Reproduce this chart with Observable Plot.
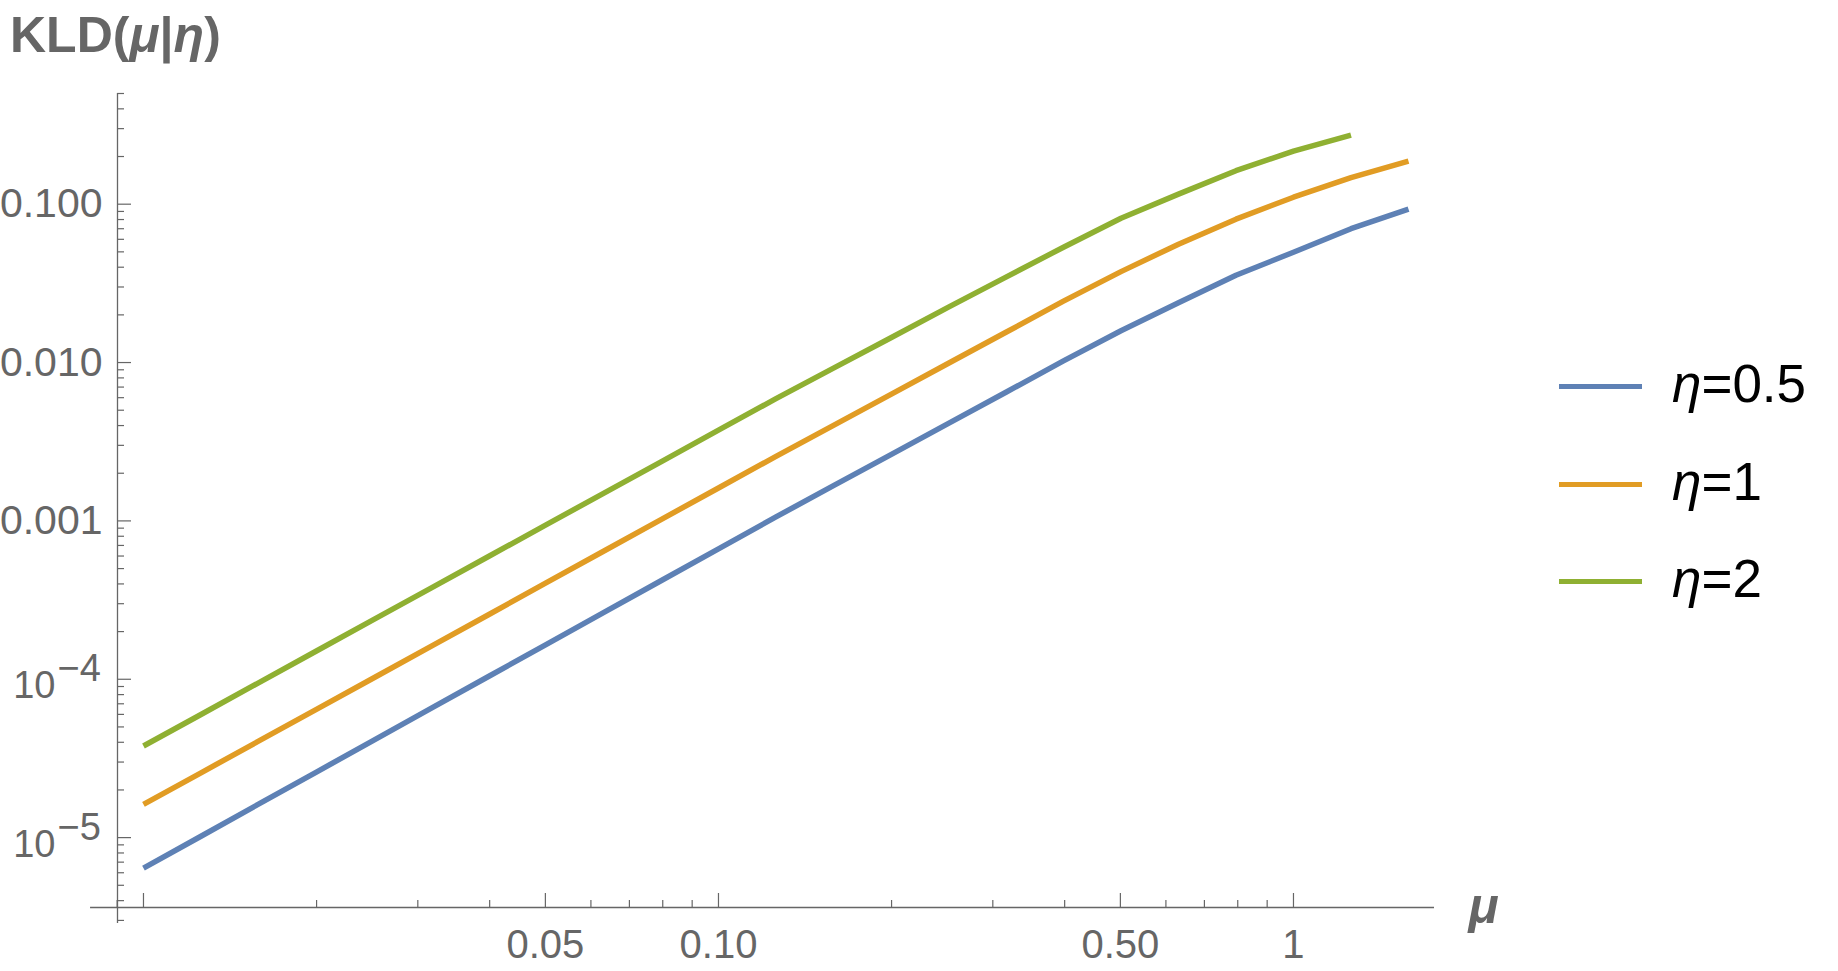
<!DOCTYPE html>
<html>
<head>
<meta charset="utf-8">
<script src="https://cdn.jsdelivr.net/npm/d3@7"></script>
<script src="https://cdn.jsdelivr.net/npm/@observablehq/plot@0.6"></script>
<style>
  html, body { margin: 0; padding: 0; background: #fff; overflow: hidden; }
  #wrap { position: relative; width: 1838px; height: 971px; font-family: "Liberation Sans", Arial, sans-serif; }
  #title { position: absolute; left: 10px; top: 10px; font-size: 50px; line-height: 50px; font-weight: bold; color: #666; white-space: nowrap; }
  .leg-line { position: absolute; left: 1559px; width: 83px; height: 5px; }
  .leg-text { position: absolute; left: 1672px; font-size: 53px; line-height: 53px; color: #000; white-space: nowrap; }
</style>
</head>
<body>
<div id="wrap">
  <div id="chart"></div>
  <div id="title">KLD(<i>μ</i>|<i>η</i>)</div>
  <div id="legend"></div>
</div>
<script>
// ---- data ----
const mu = [0.01, 0.01259, 0.01585, 0.01995, 0.02512, 0.03162, 0.03981, 0.05012, 0.0631, 0.07943,
            0.1, 0.1259, 0.1585, 0.1995, 0.2512, 0.3162, 0.3981, 0.5012, 0.631, 0.7943, 1, 1.259, 1.585];
const kldEta05 = [6.42e-6, 1.02e-5, 1.626e-5, 2.585e-5, 4.11e-5, 6.55e-5, 1.041e-4, 1.656e-4, 2.634e-4, 4.19e-4,
                  6.66e-4, 1.06e-3, 1.669e-3, 2.623e-3, 4.13e-3, 6.49e-3, 1.025e-2, 1.588e-2, 2.386e-2, 3.56e-2, 4.97e-2, 7.0e-2, 9.3e-2];
const kldEta1 = [1.621e-5, 2.566e-5, 4.064e-5, 6.43e-5, 1.019e-4, 1.614e-4, 2.555e-4, 4.06e-4, 6.43e-4, 1.019e-3,
                 1.614e-3, 2.555e-3, 4.01e-3, 6.30e-3, 9.90e-3, 1.553e-2, 2.44e-2, 3.75e-2, 5.59e-2, 8.04e-2, 0.1107, 0.147, 0.1869];
const kldEta2 = [3.79e-5, 5.99e-5, 9.49e-5, 1.503e-4, 2.38e-4, 3.76e-4, 5.96e-4, 9.43e-4, 1.494e-3, 2.36e-3,
                 3.74e-3, 5.92e-3, 9.22e-3, 1.434e-2, 2.24e-2, 3.46e-2, 5.35e-2, 8.16e-2, 0.1157, 0.1627, 0.2162, 0.2729];
const seriesNames = ["η=0.5", "η=1", "η=2"];
const seriesColors = ["#5E81B5", "#E19C24", "#8FB032"];

const xMajorTicks = [0.01, 0.05, 0.1, 0.5, 1];
const xMinorTicks = [0.009, 0.02, 0.03, 0.04, 0.06, 0.07, 0.08, 0.09, 0.2, 0.3, 0.4, 0.6, 0.7, 0.8, 0.9];
const xTickLabels = [{v: 0.05, t: "0.05"}, {v: 0.1, t: "0.10"}, {v: 0.5, t: "0.50"}, {v: 1, t: "1"}];

const yMajorTicks = [1e-5, 1e-4, 1e-3, 1e-2, 1e-1];
const yMinorTicks = [3e-6, 4e-6, 5e-6, 6e-6, 7e-6, 8e-6, 9e-6,
  2e-5, 3e-5, 4e-5, 5e-5, 6e-5, 7e-5, 8e-5, 9e-5,
  2e-4, 3e-4, 4e-4, 5e-4, 6e-4, 7e-4, 8e-4, 9e-4,
  2e-3, 3e-3, 4e-3, 5e-3, 6e-3, 7e-3, 8e-3, 9e-3,
  0.02, 0.03, 0.04, 0.05, 0.06, 0.07, 0.08, 0.09,
  0.2, 0.3, 0.4, 0.5];
const yDecimalLabels = [{v: 0.1, t: "0.100"}, {v: 0.01, t: "0.010"}, {v: 0.001, t: "0.001"}];
const yPowerLabels = [{v: 1e-4, e: "−4"}, {v: 1e-5, e: "−5"}];

// ---- build table ----
const rows = [];
[kldEta05, kldEta1, kldEta2].forEach((arr, i) => {
  arr.forEach((v, j) => rows.push({mu: mu[j], kld: v, eta: seriesNames[i]}));
});

const W = 1838, H = 971;
const mL = 117, mR = 404, mT = 93, mB = 64;
const frameW = W - mL - mR, frameH = H - mT - mB;
const xDomain = [0.009012, 1.759];
const yDomain = [3.62e-6, 0.5];
const axisColor = "#666";
const font = "'Liberation Sans', Arial, sans-serif";

const chart = Plot.plot({
  width: W, height: H,
  marginLeft: mL, marginRight: mR, marginTop: mT, marginBottom: mB,
  style: {fontFamily: font, background: "white"},
  x: {type: "log", domain: xDomain, axis: null},
  y: {type: "log", domain: yDomain, axis: null},
  color: {domain: seriesNames, range: seriesColors},
  marks: [
    // axis lines
    Plot.ruleY([yDomain[0]], {x1: 0.00809, x2: xDomain[1], stroke: axisColor, strokeWidth: 1.3}),
    Plot.ruleX([xDomain[0]], {y1: 2.87e-6, y2: yDomain[1], stroke: axisColor, strokeWidth: 1.3}),
    // x ticks
    Plot.tickX(xMajorTicks, {x: d => d, insetTop: frameH - 14, stroke: axisColor, strokeWidth: 1.2}),
    Plot.tickX(xMinorTicks, {x: d => d, insetTop: frameH - 7, stroke: axisColor, strokeWidth: 1.2}),
    // y ticks
    Plot.tickY(yMajorTicks, {y: d => d, insetRight: frameW - 14, stroke: axisColor, strokeWidth: 1.2}),
    Plot.tickY(yMinorTicks, {y: d => d, insetRight: frameW - 7, stroke: axisColor, strokeWidth: 1.2}),
    // x tick labels
    Plot.text(xTickLabels, {x: "v", text: "t", frameAnchor: "bottom", lineAnchor: "bottom", dy: 50,
      fontSize: 40, fill: axisColor}),
    // y tick labels
    Plot.text(yDecimalLabels, {y: "v", text: "t", frameAnchor: "left", textAnchor: "end", lineAnchor: "middle",
      dx: -15, fontSize: 41, fill: axisColor}),
    Plot.text(yPowerLabels, {y: "v", text: () => "10", frameAnchor: "left", textAnchor: "end", lineAnchor: "middle",
      dx: -62, dy: 7, fontSize: 38, fill: axisColor}),
    Plot.text(yPowerLabels, {y: "v", text: "e", frameAnchor: "left", textAnchor: "start", lineAnchor: "middle",
      dx: -60, dy: -10, fontSize: 38, fill: axisColor}),
    // x axis label
    Plot.text(["μ"], {frameAnchor: "bottom-right", textAnchor: "start", lineAnchor: "bottom",
      dx: 34, dy: 15, fontSize: 50, fontWeight: "bold", fontStyle: "italic", fill: axisColor}),
    // curves
    Plot.line(rows, {x: "mu", y: "kld", z: "eta", stroke: "eta", strokeWidth: 5.5,
      strokeLinecap: "butt", strokeLinejoin: "round"}),
  ]
});
document.getElementById("chart").appendChild(chart);

// ---- legend ----
const legend = document.getElementById("legend");
const legendLineY = [386, 484, 581];
seriesNames.forEach((name, i) => {
  const ln = document.createElement("div");
  ln.className = "leg-line";
  ln.style.top = (legendLineY[i] - 2.5) + "px";
  ln.style.background = seriesColors[i];
  legend.appendChild(ln);
  const tx = document.createElement("div");
  tx.className = "leg-text";
  tx.style.top = (legendLineY[i] + 16 - 45) + "px";
  const parts = name.split("=");
  tx.innerHTML = "<i>" + parts[0] + "</i>=" + parts[1];
  legend.appendChild(tx);
});
</script>
</body>
</html>
